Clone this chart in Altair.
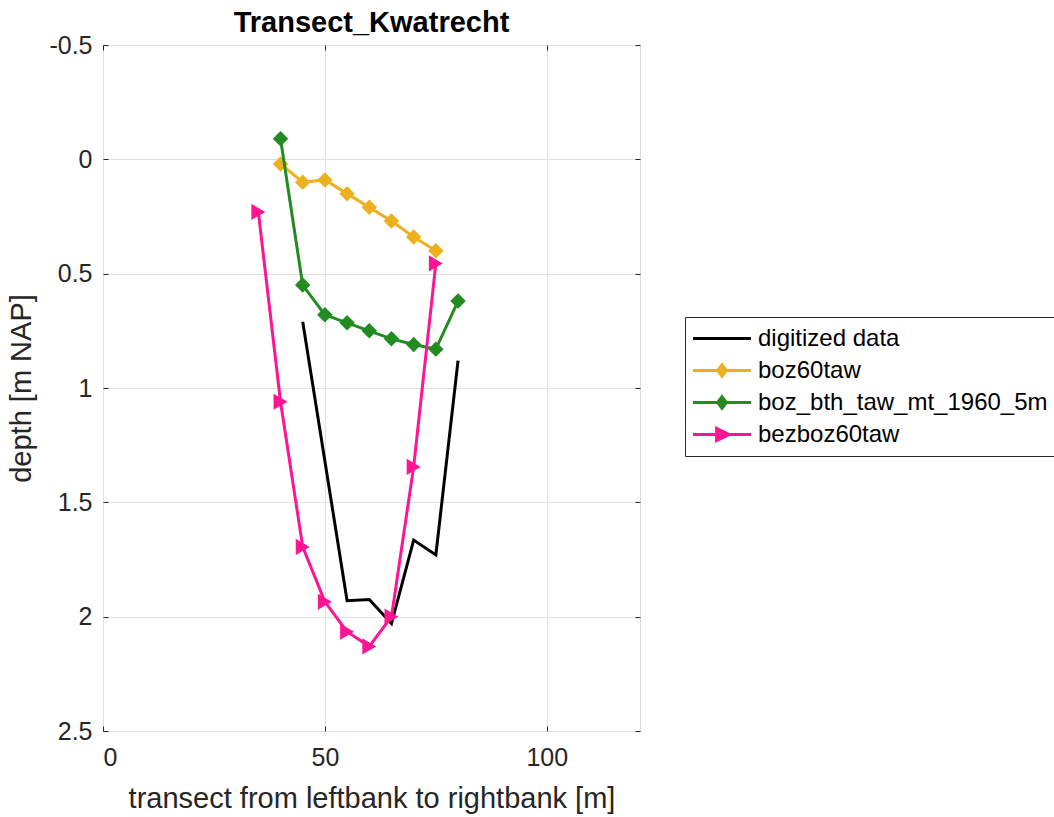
import altair as alt
import pandas as pd

# Series names and their line/marker colours
series_names = ["digitized data", "boz60taw", "boz_bth_taw_mt_1960_5m", "bezboz60taw"]
series_colors = ["#000000", "#EDB120", "#228B22", "#FF1493"]

# Cross-section profiles: distance along transect [m] and depth [m NAP]
digitized_x = [45, 55, 60, 65, 70, 75, 80]
digitized_depth = [0.71, 1.93, 1.925, 2.03, 1.665, 1.73, 0.88]

boz60_x = [40, 45, 50, 55, 60, 65, 70, 75]
boz60_depth = [0.02, 0.10, 0.09, 0.15, 0.21, 0.27, 0.34, 0.40]

bth_x = [40, 45, 50, 55, 60, 65, 70, 75, 80]
bth_depth = [-0.09, 0.55, 0.68, 0.715, 0.75, 0.785, 0.81, 0.83, 0.62]

bez_x = [35, 40, 45, 50, 55, 60, 65, 70, 75]
bez_depth = [0.23, 1.06, 1.695, 1.935, 2.066, 2.13, 2.0, 1.345, 0.455]

# Axis ticks
x_ticks = [0, 50, 100]
y_ticks = [-0.5, 0, 0.5, 1, 1.5, 2, 2.5]

# Legend glyphs: a line segment with the series marker drawn on it
legend_glyphs = [
    "M-1.35,0L4.45,0",
    "M-1.35,0L4.45,0M1.55,-0.6L2.0,0L1.55,0.6L1.1,0Z",
    "M-1.35,0L4.45,0M1.55,-0.6L2.0,0L1.55,0.6L1.1,0Z",
    "M-1.35,0L4.45,0M1.0,-0.63L2.3,0L1.0,0.63Z",
]

frames = []
for name, xs, ds in [
    (series_names[0], digitized_x, digitized_depth),
    (series_names[1], boz60_x, boz60_depth),
    (series_names[2], bth_x, bth_depth),
    (series_names[3], bez_x, bez_depth),
]:
    frames.append(pd.DataFrame({"x": xs, "depth": ds, "series": name}))
data = pd.concat(frames, ignore_index=True)

FONT = "Liberation Sans"
AXIS_COLOR = "#262626"
GRID_COLOR = "#e1e1e1"

x_scale = alt.Scale(domain=[0, 121], nice=False, zero=False)
y_scale = alt.Scale(domain=[-0.5, 2.5], reverse=True, nice=False, zero=False)
color_scale = alt.Scale(domain=series_names, range=series_colors)

label_expr = "'' + datum.value"

x_axis_main = alt.Axis(
    orient="bottom", values=x_ticks, labelExpr=label_expr, grid=True,
    gridColor=GRID_COLOR, gridWidth=1, domain=False, ticks=True, tickSize=5,
    offset=-5, tickColor=AXIS_COLOR, labelFont=FONT, labelFontSize=25,
    labelColor=AXIS_COLOR, labelPadding=14,
    title="transect from leftbank to rightbank [m]", titleFont=FONT,
    titleFontSize=29, titleFontWeight="normal", titleColor=AXIS_COLOR,
    titleX=268.5, titleY=81, titleAlign="center", titleBaseline="alphabetic",
)
y_axis_main = alt.Axis(
    orient="left", values=y_ticks, labelExpr=label_expr, grid=True,
    gridColor=GRID_COLOR, gridWidth=1, domain=False, ticks=True, tickSize=5,
    offset=-5, tickColor=AXIS_COLOR, labelFont=FONT, labelFontSize=25,
    labelColor=AXIS_COLOR, labelPadding=11,
    title="depth [m NAP]", titleFont=FONT, titleFontSize=29,
    titleFontWeight="normal", titleColor=AXIS_COLOR, titleAngle=-90,
    titleX=-78, titleY=343, titleAlign="center", titleBaseline="alphabetic",
)
x_axis_top = alt.Axis(
    orient="top", values=x_ticks, labels=False, grid=False, domain=False,
    ticks=True, tickSize=5, offset=-5, tickColor=AXIS_COLOR, title=None,
)
y_axis_right = alt.Axis(
    orient="right", values=y_ticks, labels=False, grid=False, domain=False,
    ticks=True, tickSize=5, offset=-5, tickColor=AXIS_COLOR, title=None,
)

base = alt.Chart(data)


def line_layer(name, with_axes=False):
    xa = x_axis_main if with_axes else None
    ya = y_axis_main if with_axes else None
    return base.mark_line(strokeWidth=3).encode(
        x=alt.X("x:Q", scale=x_scale, axis=xa),
        y=alt.Y("depth:Q", scale=y_scale, axis=ya),
        color=alt.Color("series:N", scale=color_scale, legend=None),
        order="x:Q",
    ).transform_filter(alt.datum.series == name)


def marker_layer(name, shape, size):
    return base.mark_point(filled=True, shape=shape, size=size, opacity=1).encode(
        x=alt.X("x:Q", scale=x_scale, axis=None),
        y=alt.Y("depth:Q", scale=y_scale, axis=None),
        color=alt.Color("series:N", scale=color_scale, legend=None),
    ).transform_filter(alt.datum.series == name)


legend_def = alt.Legend(
    orient="none", legendX=582, legendY=272, title=None,
    symbolSize=400, symbolStrokeWidth=2.8, symbolOpacity=1,
    labelFont=FONT, labelFontSize=24, labelColor="#000000", labelLimit=500,
    labelOffset=39.5, rowPadding=8, padding=9.5,
    strokeColor="#262626", fillColor="white",
)

# Invisible points that carry the legend and the inner ticks on the top/right edges
legend_layer = base.mark_point(opacity=0, strokeWidth=2.8).encode(
    x=alt.X("x:Q", scale=x_scale, axis=x_axis_top),
    y=alt.Y("depth:Q", scale=y_scale, axis=y_axis_right),
    fill=alt.Fill("series:N", scale=alt.Scale(domain=series_names, range=series_colors), legend=legend_def),
    stroke=alt.Stroke("series:N", scale=alt.Scale(domain=series_names, range=series_colors), legend=legend_def),
    shape=alt.Shape("series:N", scale=alt.Scale(domain=series_names, range=legend_glyphs), legend=legend_def),
)

chart = alt.layer(
    line_layer(series_names[0], with_axes=True),
    line_layer(series_names[1]),
    marker_layer(series_names[1], "diamond", 240),
    line_layer(series_names[2]),
    marker_layer(series_names[2], "diamond", 240),
    line_layer(series_names[3]),
    marker_layer(series_names[3], "triangle-right", 260),
    legend_layer,
).resolve_legend(
    color="independent",
).properties(
    width=537,
    height=686,
    title=alt.TitleParams(
        "Transect_Kwatrecht", font=FONT, fontSize=29, fontWeight="bold",
        color="#000000", anchor="middle", frame="group", offset=15, dy=43,
        baseline="alphabetic",
    ),
    padding={"left": 103, "top": 45, "right": 414, "bottom": 86},
    autosize=alt.AutoSizeParams(type="none"),
).configure_view(
    stroke="#333333", strokeWidth=1,
).configure(background="white")

chart.save("out.html", embed_options={"renderer": "svg", "actions": False})
